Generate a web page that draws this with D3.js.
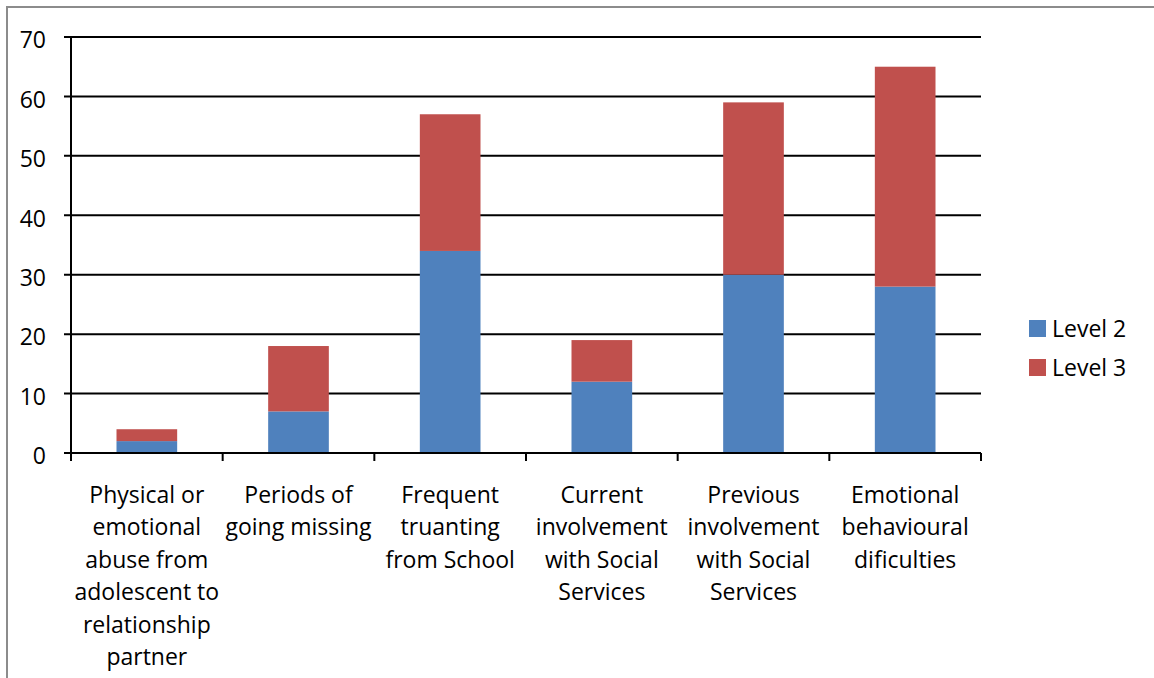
<!DOCTYPE html>
<html><head><meta charset="utf-8">
<script src="https://cdn.jsdelivr.net/npm/d3@7"></script>
<style>body{margin:0;background:#fff}svg{display:block}</style>
</head><body>
<svg id="c" width="1154" height="678"></svg>
<script>
const categories = [
  ["Physical or","emotional","abuse from","adolescent to","relationship","partner"],
  ["Periods of","going missing"],
  ["Frequent","truanting","from School"],
  ["Current","involvement","with Social","Services"],
  ["Previous","involvement","with Social","Services"],
  ["Emotional","behavioural","dificulties"]
];
const level2 = [2, 7, 34, 12, 30, 28];
const level3 = [2, 11, 23, 7, 29, 37];
const seriesNames = ["Level 2", "Level 3"];
const colors = ["#4F81BD", "#C0504D"];
const yTicks = [0,10,20,30,40,50,60,70];

const svg = d3.select("#c");
const font = "'Open Sans', sans-serif";
const fs = 23;
// outer frame
svg.append("path").attr("d","M7,678 V7 H1154").attr("fill","none").attr("stroke","#8c8c8c").attr("stroke-width",2);

const x0 = 71, x1 = 981, yTop = 37, yBot = 453;
const x = d3.scaleBand().domain(d3.range(categories.length)).range([x0, x1]).padding(0);
const y = d3.scaleLinear().domain([0,70]).range([yBot, yTop]);

// gridlines + y ticks
const g = svg.append("g");
yTicks.forEach(t => {
  g.append("line").attr("x1", 64).attr("x2", x1).attr("y1", y(t)).attr("y2", y(t))
    .attr("stroke","#000").attr("stroke-width",2);
  g.append("text").attr("x", 46).attr("y", y(t) + 3).attr("dy","0.36em")
    .attr("text-anchor","end").attr("font-family",font).attr("font-size",fs).text(t);
});
// y axis line
g.append("line").attr("x1",x0).attr("x2",x0).attr("y1",yTop).attr("y2",yBot).attr("stroke","#000").attr("stroke-width",2);

// stacked data
const data = categories.map((c,i)=>({i, l2: level2[i], l3: level3[i]}));
const stack = d3.stack().keys(["l2","l3"])(data);
const bw = x.bandwidth()*0.4;
stack.forEach((s,k)=>{
  svg.append("g").selectAll("rect").data(s).join("rect")
    .attr("x", d => x(d.data.i) + (x.bandwidth()-bw)/2)
    .attr("width", bw)
    .attr("y", d => y(d[1]))
    .attr("height", d => y(d[0]) - y(d[1]))
    .attr("fill", colors[k]);
});

// x axis baseline and ticks
svg.append("line").attr("x1",64).attr("x2",x1).attr("y1",yBot).attr("y2",yBot).attr("stroke","#000").attr("stroke-width",2);
d3.range(categories.length+1).forEach(i=>{
  const xx = i < categories.length ? x(i) : x1;
  svg.append("line").attr("x1",xx).attr("x2",xx).attr("y1",yBot).attr("y2",yBot+8).attr("stroke","#000").attr("stroke-width",2);
});

// category labels
categories.forEach((lines,i)=>{
  const t = svg.append("text").attr("text-anchor","middle").attr("font-family",font).attr("font-size",fs);
  lines.forEach((ln,j)=>{
    t.append("tspan").attr("x", x(i)+x.bandwidth()/2).attr("y", 503 + j*32.4).text(ln);
  });
});

// legend
seriesNames.forEach((n,k)=>{
  const ly = 320 + k*39;
  svg.append("rect").attr("x",1029).attr("y",ly).attr("width",17).attr("height",17).attr("fill",colors[k]);
  svg.append("text").attr("x",1052).attr("y",ly+8.5).attr("dy","0.36em").attr("font-family",font).attr("font-size",fs).text(n);
});
</script>
</body></html>
